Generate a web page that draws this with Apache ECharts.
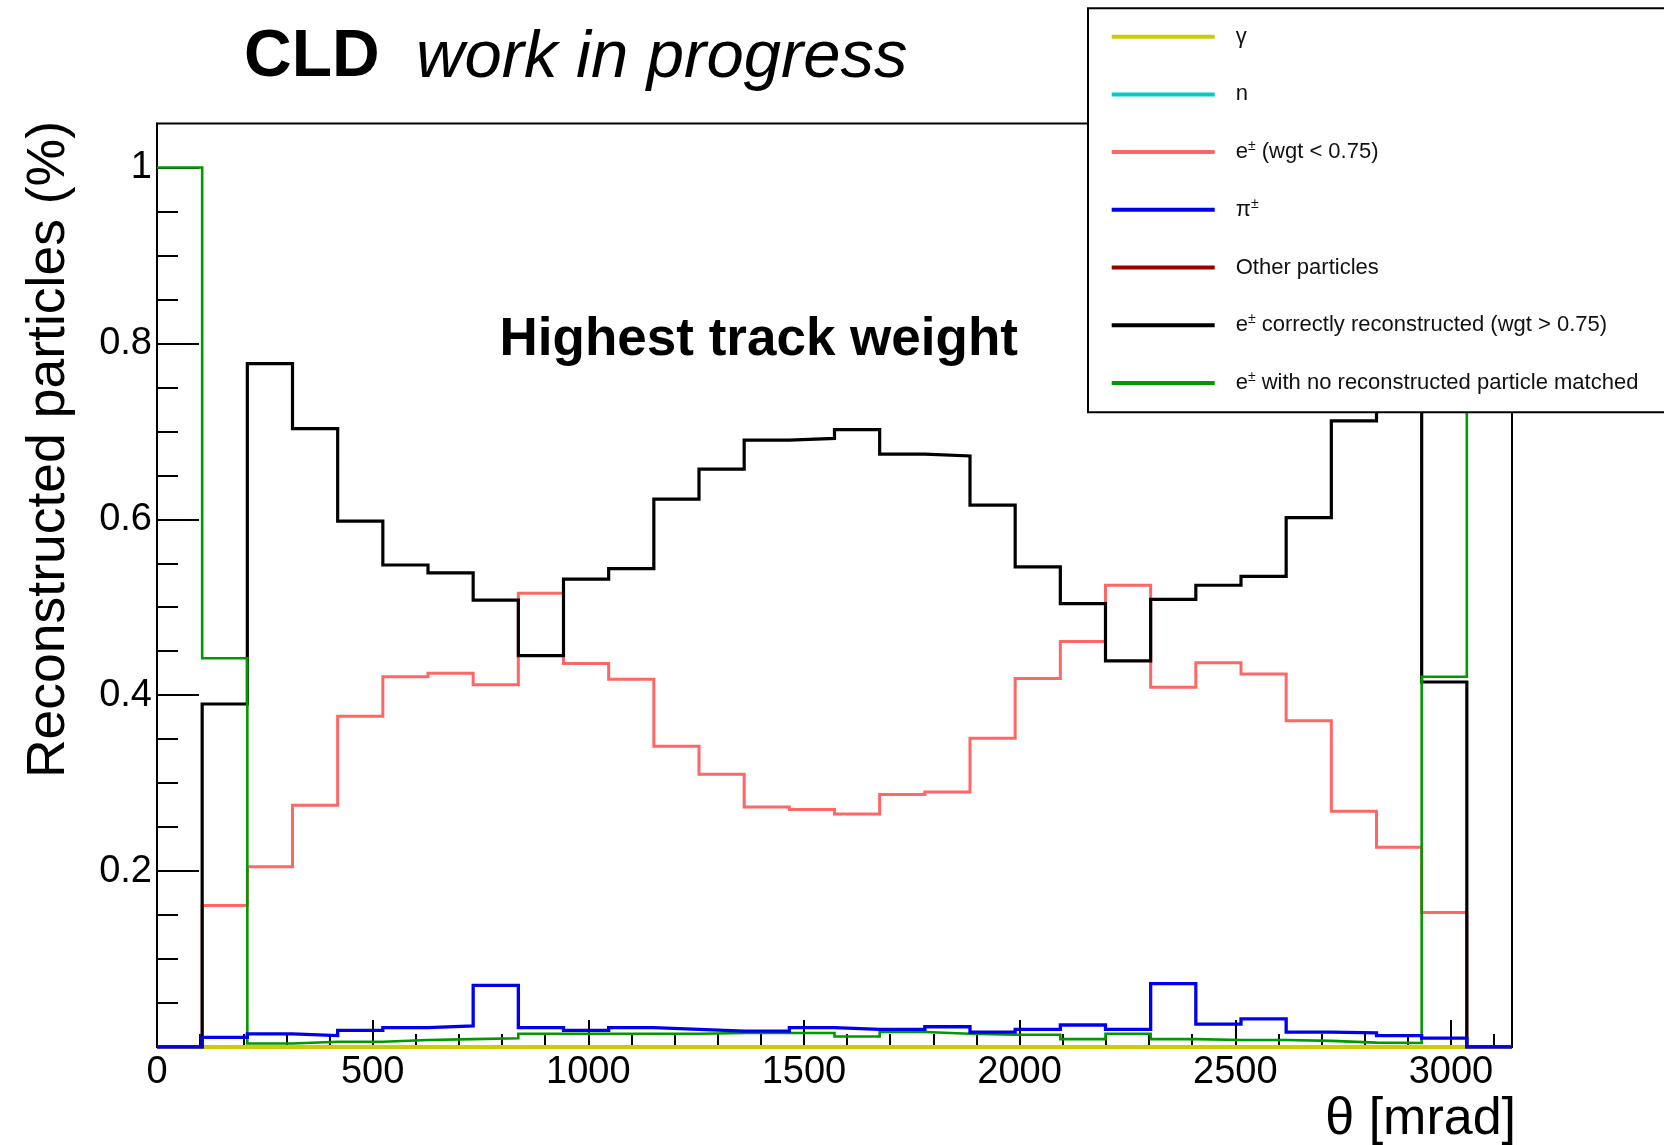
<!DOCTYPE html>
<html>
<head>
<meta charset="utf-8">
<script src="https://cdn.jsdelivr.net/npm/echarts@6/dist/echarts.min.js"></script>
<style>
html,body{margin:0;padding:0;background:#ffffff;}
#chart{width:1664px;height:1145px;}
</style>
</head>
<body>
<div id="chart"></div>
<script>
// ---------------- data ----------------
const THETA_MAX = 3141.5927;   // pi * 1000 mrad, end of the axis
const N_BINS = 30;

const seriesNames = [
  'γ',
  'n',
  'e± (wgt < 0.75)',
  'π±',
  'Other particles',
  'e± correctly reconstructed (wgt > 0.75)',
  'e± with no reconstructed particle matched'
];

const gammaVals = [0,0,0,0,0,0,0,0,0,0, 0,0,0,0,0,0,0,0,0,0, 0,0,0,0,0,0,0,0,0,0];
const neutronVals = [0,0,0,0,0,0,0,0,0,0, 0,0,0,0,0,0,0,0,0,0, 0,0,0,0,0,0,0,0,0,0];
const otherVals = [0,0,0,0,0,0,0,0,0,0, 0,0,0,0,0,0,0,0,0,0, 0,0,0,0,0,0,0,0,0,0];
const eLowWgtVals = [0, 0.161, 0.205, 0.275, 0.376, 0.421, 0.425, 0.412, 0.516, 0.436,
                     0.418, 0.342, 0.310, 0.273, 0.270, 0.265, 0.287, 0.290, 0.351, 0.419,
                     0.461, 0.525, 0.409, 0.437, 0.424, 0.371, 0.268, 0.227, 0.153, 0];
const pionVals = [0, 0.011, 0.015, 0.013, 0.019, 0.022, 0.024, 0.070, 0.022, 0.019,
                  0.022, 0.020, 0.018, 0.018, 0.022, 0.020, 0.020, 0.023, 0.017, 0.020,
                  0.025, 0.020, 0.072, 0.026, 0.032, 0.017, 0.016, 0.013, 0.010, 0];
const eCorrectVals = [0, 0.390, 0.777, 0.703, 0.598, 0.548, 0.539, 0.508, 0.445, 0.532,
                      0.544, 0.623, 0.657, 0.690, 0.692, 0.702, 0.674, 0.672, 0.616, 0.546,
                      0.504, 0.439, 0.509, 0.525, 0.535, 0.602, 0.712, 0.780, 0.415, 0];
const eUnmatchedVals = [1.0, 0.442, 0.004, 0.006, 0.006, 0.008, 0.009, 0.010, 0.015, 0.015,
                        0.015, 0.015, 0.016, 0.016, 0.016, 0.012, 0.017, 0.015, 0.014, 0.014,
                        0.009, 0.015, 0.009, 0.008, 0.008, 0.007, 0.005, 0.0045, 0.421, 1.0];

const xMajorTicks = [0, 500, 1000, 1500, 2000, 2500, 3000];
const xMinorTicks = [100,200,300,400, 600,700,800,900, 1100,1200,1300,1400, 1600,1700,1800,1900,
                     2100,2200,2300,2400, 2600,2700,2800,2900, 3100];
const yMajorTicks = [0, 0.2, 0.4, 0.6, 0.8, 1];
const yTickLabels = [0.2, 0.4, 0.6, 0.8, 1];
const yMinorTicks = [0.05,0.1,0.15, 0.25,0.3,0.35, 0.45,0.5,0.55, 0.65,0.7,0.75, 0.85,0.9,0.95];

// ---------------- helpers ----------------
const FONT = '"Liberation Sans", Helvetica, Arial, sans-serif';
const binWidth = THETA_MAX / N_BINS;
function stepData(vals) {
  const d = vals.map((v, i) => [i * binWidth, v]);
  d.push([N_BINS * binWidth, vals[vals.length - 1]]);
  return d;
}
function hist(name, vals, color, width) {
  return {
    name: name, type: 'line', step: 'end', data: stepData(vals),
    symbol: 'none', showSymbol: false, silent: true, animation: false,
    emphasis: { disabled: true },
    itemStyle: { color: color },
    lineStyle: { color: color, width: width, join: 'miter', cap: 'butt' }
  };
}

const chart = echarts.init(document.getElementById('chart'), null, { renderer: 'canvas' });

const option = {
  backgroundColor: '#ffffff',
  animation: false,
  grid: {
    left: 157, top: 123.5, right: 152, bottom: 98,
    containLabel: false, outerBoundsMode: 'none',
    show: true, borderColor: '#000', borderWidth: 2, backgroundColor: 'transparent'
  },
  xAxis: [
    {
      type: 'value', min: 0, max: THETA_MAX, position: 'bottom',
      axisLine: { show: true, onZero: false, lineStyle: { color: '#000', width: 2 } },
      axisTick: { show: true, inside: true, length: 27, customValues: xMajorTicks,
                  lineStyle: { color: '#000', width: 2 } },
      axisLabel: { show: true, customValues: xMajorTicks, formatter: v => String(v),
                   fontSize: 38, fontFamily: FONT, color: '#000', margin: 7 },
      splitLine: { show: false }, minorTick: { show: false }
    },
    {
      type: 'value', min: 0, max: THETA_MAX, position: 'bottom',
      axisLine: { show: false },
      axisTick: { show: true, inside: true, length: 13, customValues: xMinorTicks,
                  lineStyle: { color: '#000', width: 2 } },
      axisLabel: { show: false }, splitLine: { show: false }
    }
  ],
  yAxis: [
    {
      type: 'value', min: 0, max: 1.05, position: 'left',
      axisLine: { show: true, onZero: false, lineStyle: { color: '#000', width: 2 } },
      axisTick: { show: true, inside: true, length: 42, customValues: yMajorTicks,
                  lineStyle: { color: '#000', width: 2 } },
      axisLabel: { show: true, customValues: yTickLabels, formatter: v => String(v),
                   fontSize: 38, fontFamily: FONT, color: '#000', margin: 5 },
      splitLine: { show: false }
    },
    {
      type: 'value', min: 0, max: 1.05, position: 'left',
      axisLine: { show: false },
      axisTick: { show: true, inside: true, length: 21, customValues: yMinorTicks,
                  lineStyle: { color: '#000', width: 2 } },
      axisLabel: { show: false }, splitLine: { show: false }
    }
  ],
  legend: {
    show: true, orient: 'vertical', left: 1088, top: 8.3,
    padding: [15.4, 200, 16.3, 23.7],
    itemGap: 31.7, itemWidth: 103, itemHeight: 4, icon: 'rect',
    selectedMode: false,
    backgroundColor: '#ffffff', borderColor: '#000', borderWidth: 2, borderRadius: 0,
    itemStyle: { borderWidth: 0 },
    data: seriesNames,
    formatter: name => name.replace(/±/g, '{sup|±}'),
    textStyle: {
      fontSize: 22, fontFamily: FONT, color: '#111', lineHeight: 26,
      padding: [0, 0, 0, 16],
      rich: { sup: { fontSize: 14, lineHeight: 14, verticalAlign: 'top', fontFamily: FONT, color: '#111' } }
    },
    z: 10
  },
  graphic: [
    { type: 'text', x: 244, y: 58, silent: true,
      style: { text: 'CLD', font: 'bold 66px ' + FONT, fill: '#000',
               align: 'left', verticalAlign: 'middle', textAlign: 'left', textVerticalAlign: 'middle' } },
    { type: 'text', x: 416, y: 58, silent: true,
      style: { text: 'work in progress', font: 'italic 67px ' + FONT, fill: '#000',
               align: 'left', verticalAlign: 'middle', textAlign: 'left', textVerticalAlign: 'middle' } },
    { type: 'text', x: 499.6, y: 340, silent: true,
      style: { text: 'Highest track weight', font: 'bold 53px ' + FONT, fill: '#000',
               align: 'left', verticalAlign: 'middle', textAlign: 'left', textVerticalAlign: 'middle' } },
    { type: 'text', x: 1516, y: 1120, silent: true,
      style: { text: 'θ [mrad]', font: '52px ' + FONT, fill: '#000',
               align: 'right', verticalAlign: 'middle', textAlign: 'right', textVerticalAlign: 'middle' } },
    { type: 'text', x: 49, y: 121, rotation: Math.PI / 2, silent: true,
      style: { text: 'Reconstructed particles (%)', font: '53.5px ' + FONT, fill: '#000',
               align: 'right', verticalAlign: 'middle', textAlign: 'right', textVerticalAlign: 'middle' } }
  ],
  series: [
    hist(seriesNames[1], neutronVals, '#00cccc', 3),
    hist(seriesNames[4], otherVals, '#990000', 3),
    hist(seriesNames[0], gammaVals, '#cccc00', 4),
    hist(seriesNames[2], eLowWgtVals, '#ff6666', 3),
    hist(seriesNames[5], eCorrectVals, '#000000', 3.2),
    hist(seriesNames[6], eUnmatchedVals, '#009900', 2.6),
    hist(seriesNames[3], pionVals, '#0000ee', 3.3)
  ]
};
chart.setOption(option);
</script>
</body>
</html>
